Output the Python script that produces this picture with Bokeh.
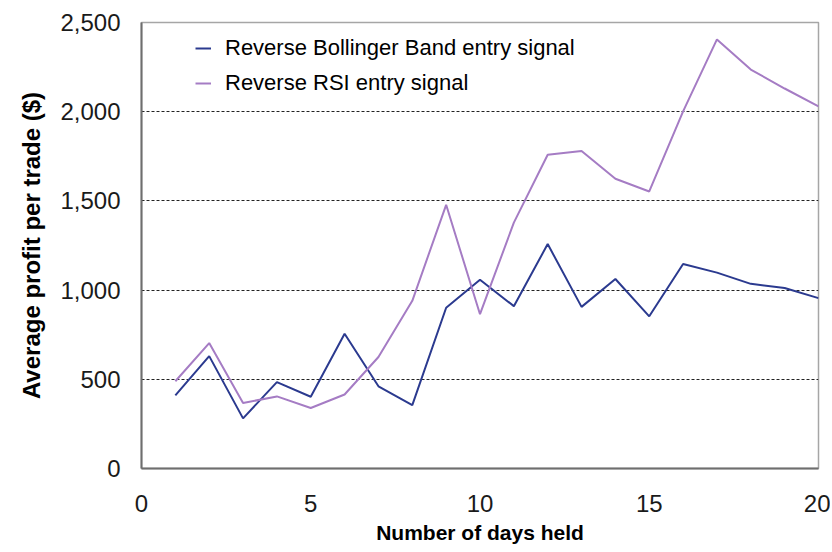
from bokeh.plotting import figure
from bokeh.models import FixedTicker, NumeralTickFormatter, Legend, LegendItem, Range1d
from bokeh.embed import file_html
from bokeh.resources import INLINE

days = list(range(1, 21))
bollinger = [410, 630, 281, 484, 402, 755, 461, 355, 901, 1058, 910, 1258, 906, 1062, 853, 1146, 1098, 1035, 1012, 955]
rsi = [489, 703, 367, 404, 339, 415, 625, 940, 1478, 865, 1378, 1759, 1780, 1624, 1553, 2002, 2405, 2236, 2130, 2030]
x_ticks = [0, 5, 10, 15, 20]
y_ticks = [0, 500, 1000, 1500, 2000, 2500]
grid_ticks = [500, 1000, 1500, 2000]
series_names = ["Reverse Bollinger Band entry signal", "Reverse RSI entry signal"]

FONT = "Liberation Sans"

p = figure(frame_width=677, frame_height=446, min_border_left=141, min_border_right=12,
           min_border_top=22, min_border_bottom=82,
           output_backend="svg", toolbar_location=None,
           x_range=Range1d(0, 20), y_range=Range1d(0, 2500))
p.background_fill_color = "white"
p.border_fill_color = "white"
p.outline_line_color = "#a6a6a6"
p.outline_line_width = 1.5

r1 = p.line(days, bollinger, line_color="#2b3a8f", line_width=2)
r2 = p.line(days, rsi, line_color="#a57cc4", line_width=2)

p.xgrid.grid_line_color = None
p.ygrid.ticker = FixedTicker(ticks=grid_ticks)
p.ygrid.grid_line_color = "#222222"
p.ygrid.grid_line_dash = "3 2"
p.ygrid.grid_line_width = 1

for ax in (p.xaxis[0], p.yaxis[0]):
    ax.axis_line_color = "#6e6e6e"
    ax.axis_line_width = 2
    ax.major_tick_line_color = None
    ax.minor_tick_line_color = None
    ax.major_tick_out = 0
    ax.major_tick_in = 0
    ax.minor_tick_out = 0
    ax.major_label_text_font = FONT
    ax.major_label_text_font_size = "24px"
    ax.major_label_text_color = "#1a1a1a"
    ax.axis_label_text_font = FONT
    ax.axis_label_text_font_style = "bold"
    ax.axis_label_text_color = "#000000"

p.xaxis.axis_label_text_font_size = "21px"
p.yaxis.axis_label_text_font_size = "24px"
p.xaxis.ticker = FixedTicker(ticks=x_ticks)
p.yaxis.ticker = FixedTicker(ticks=y_ticks)
p.yaxis.formatter = NumeralTickFormatter(format="0,0")
p.xaxis.axis_label = "Number of days held"
p.yaxis.axis_label = "Average profit per trade ($)"
p.xaxis.major_label_standoff = 26
p.yaxis.major_label_standoff = 21
p.xaxis.axis_label_standoff = 6
p.yaxis.axis_label_standoff = 12

legend = Legend(items=[LegendItem(label=series_names[0], renderers=[r1]),
                       LegendItem(label=series_names[1], renderers=[r2])],
                location=(54, 370))
legend.background_fill_alpha = 0
legend.border_line_color = None
legend.padding = 0
legend.margin = 0
legend.spacing = 5
legend.glyph_width = 16
legend.glyph_height = 30
legend.label_height = 30
legend.label_standoff = 14
legend.label_text_font = FONT
legend.label_text_font_size = "22px"
legend.label_text_color = "#000000"
p.add_layout(legend)

open("out.html", "w").write(file_html(p, INLINE))
